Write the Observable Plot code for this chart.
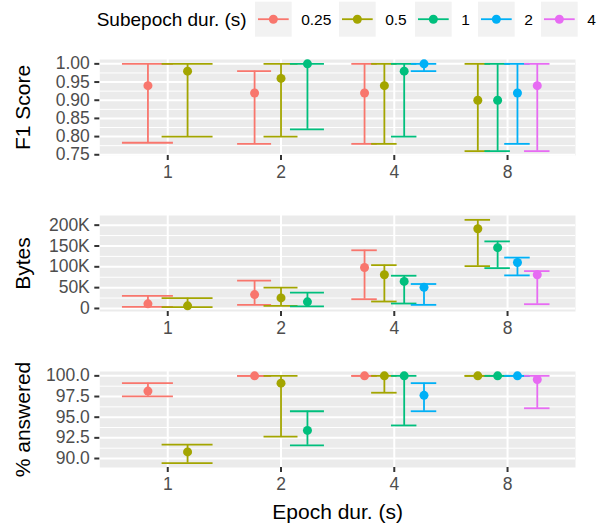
<!DOCTYPE html>
<html>
<head>
<meta charset="utf-8">
<script src="https://cdn.jsdelivr.net/npm/d3@7"></script>
<script src="https://cdn.jsdelivr.net/npm/@observablehq/plot@0.6"></script>
<style>
  html, body { margin: 0; padding: 0; background: white; overflow: hidden; }
  #chart svg { display: block; }
</style>
</head>
<body>
<div id="chart"></div>
<script>
// ---------- data ----------
const epochs = ["1", "2", "4", "8"];
const subepochs = ["0.25", "0.5", "1", "2", "4"];
const rowEpoch = ["1","1", "2","2","2", "4","4","4","4", "8","8","8","8"];
const rowSub   = ["0.25","0.5", "0.25","0.5","1", "0.25","0.5","1","2", "0.5","1","2","4"];

const f1Mid  = [0.94, 0.98,  0.92, 0.96, 1.00,  0.92, 0.94, 0.98, 1.00,  0.90, 0.90, 0.92, 0.94];
const f1Low  = [0.783, 0.80, 0.78, 0.80, 0.82,  0.78, 0.78, 0.80, 0.98,  0.76, 0.76, 0.78, 0.76];
const f1High = [1.00, 1.00,  0.98, 1.00, 1.00,  1.00, 1.00, 1.00, 1.00,  1.00, 1.00, 1.00, 1.00];

const bytesMid  = [11100, 6300,  33300, 25400, 15900,  98400, 81000, 65000, 50800,  191300, 146000, 110300, 81000];
const bytesLow  = [4000, 3200,   8700, 6300, 4800,     22200, 16700, 11900, 8700,   101600, 96800, 79400, 10300];
const bytesHigh = [30200, 24600, 66700, 50000, 38100,  139700, 104000, 78600, 58700, 212700, 161000, 122200, 89700];

const ansMid  = [98.16, 90.80,  100, 99.12, 93.40,  100, 100, 100, 97.64,  100, 100, 100, 99.56];
const ansLow  = [97.52, 89.44,  100, 92.64, 91.60,  100, 97.96, 94.00, 95.72,  100, 100, 100, 96.08];
const ansHigh = [99.12, 91.68,  100, 100, 95.72,    100, 100, 100, 99.12,  100, 100, 100, 100];

const f1Ticks = [0.75, 0.80, 0.85, 0.90, 0.95, 1.00];
const bytesTicks = [0, 50000, 100000, 150000, 200000];
const ansTicks = [90, 92.5, 95, 97.5, 100];

const palette = ["#F8766D", "#A3A500", "#00BF7D", "#00B0F6", "#E76BF3"];

// ---------- layout helpers ----------
const FONT = "Liberation Sans, Arial, Helvetica, sans-serif";
const W = 602, ML = 99.3, MR = 27;
const DODGE = 0.7, BARW = 0.9;

// dodge positions (data units of the category index)
const groupMembers = {};
rowEpoch.forEach((e, i) => { (groupMembers[e] = groupMembers[e] || []).push(rowSub[i]); });
function rows(mid, lo, hi) {
  return rowEpoch.map((e, i) => {
    const members = groupMembers[e];
    const n = members.length;
    const k = members.indexOf(rowSub[i]);
    const idx = epochs.indexOf(e) + 1;
    const xc = idx + (k - (n - 1) / 2) * (DODGE / n);
    const hw = BARW / n / 2;
    return {epoch: e, sub: rowSub[i], xc, x1: xc - hw, x2: xc + hw, mid: mid[i], lo: lo[i], hi: hi[i]};
  });
}
function expanded(data) {
  const lo = d3.min(data, d => Math.min(d.lo, d.mid));
  const hi = d3.max(data, d => Math.max(d.hi, d.mid));
  const pad = (hi - lo) * 0.05;
  return [lo - pad, hi + pad];
}
function minorOf(ticks) {
  const m = [];
  for (let i = 0; i < ticks.length - 1; i++) m.push((ticks[i] + ticks[i + 1]) / 2);
  return m;
}

function panel({data, ticks, fmt, title, height, marginBottom, xTitle}) {
  const marks = [
    Plot.frame({fill: "#EBEBEB", stroke: "none"}),
    Plot.ruleY(minorOf(ticks), {stroke: "white", strokeWidth: 1}),
    Plot.ruleY(ticks, {stroke: "white", strokeWidth: 2}),
    Plot.ruleX([1, 2, 3, 4], {stroke: "white", strokeWidth: 2}),
    Plot.ruleX(data, {x: "xc", y1: "lo", y2: "hi", stroke: "sub", strokeWidth: 1.8}),
    Plot.ruleY(data, {y: "lo", x1: "x1", x2: "x2", stroke: "sub", strokeWidth: 1.8}),
    Plot.ruleY(data, {y: "hi", x1: "x1", x2: "x2", stroke: "sub", strokeWidth: 1.8}),
    Plot.dot(data, {x: "xc", y: "mid", fill: "sub", r: 4.5}),
    Plot.axisY({ticks, tickFormat: fmt, tickSize: 5, tickPadding: 5, strokeWidth: 2, label: null, fill: "#4D4D4D", stroke: "#333333"}),
    Plot.axisX({ticks: [1, 2, 3, 4], tickFormat: i => epochs[i - 1], tickSize: 5, tickPadding: 5, strokeWidth: 2, label: null, fill: "#4D4D4D", stroke: "#333333"}),
    Plot.text([title], {frameAnchor: "left", dx: -76.3, rotate: -90, textAnchor: "middle", lineAnchor: "middle", fontSize: 21, fill: "black", text: d => d})
  ];
  if (xTitle) marks.push(Plot.text([xTitle], {frameAnchor: "bottom", dy: 45, textAnchor: "middle", lineAnchor: "middle", fontSize: 21, fill: "black", text: d => d}));
  return Plot.plot({
    width: W, height,
    marginLeft: ML, marginRight: MR, marginTop: 10, marginBottom,
    style: {fontFamily: FONT, fontSize: "17.5px", background: "white", overflow: "visible"},
    x: {domain: [0.4, 4.6], label: null},
    y: {domain: expanded(data), label: null},
    color: {domain: subepochs, range: palette},
    marks
  });
}

const root = document.getElementById("chart");

// ---------- legend ----------
const legend = d3.create("svg").attr("width", W).attr("height", 49)
  .style("font-family", FONT);
legend.append("text").attr("x", 96.7).attr("y", 19.2).attr("dy", "0.35em")
  .attr("font-size", 19).attr("fill", "black").text("Subepoch dur. (s)");
const keyX = [255, 339, 415, 478, 541];
const keyW = 36.7, keyY = 1.7, keyH = 35;
subepochs.forEach((s, i) => {
  const g = legend.append("g");
  g.append("rect").attr("x", keyX[i]).attr("y", keyY).attr("width", keyW).attr("height", keyH).attr("fill", "#F2F2F2");
  g.append("line").attr("x1", keyX[i] + 3).attr("x2", keyX[i] + keyW - 3)
    .attr("y1", keyY + keyH / 2).attr("y2", keyY + keyH / 2)
    .attr("stroke", palette[i]).attr("stroke-width", 1.8);
  g.append("circle").attr("cx", keyX[i] + keyW / 2).attr("cy", keyY + keyH / 2).attr("r", 4.5).attr("fill", palette[i]);
  g.append("text").attr("x", keyX[i] + keyW + 9.5).attr("y", keyY + keyH / 2).attr("dy", "0.35em")
    .attr("font-size", 15.5).attr("fill", "black").text(s);
});
root.appendChild(legend.node());

root.appendChild(panel({data: rows(f1Mid, f1Low, f1High), ticks: f1Ticks, fmt: d3.format(".2f"), title: "F1 Score", height: 156, marginBottom: 50}));
root.appendChild(panel({data: rows(bytesMid, bytesLow, bytesHigh), ticks: bytesTicks, fmt: d => d === 0 ? "0" : (d / 1000) + "K", title: "Bytes", height: 156, marginBottom: 50}));
root.appendChild(panel({data: rows(ansMid, ansLow, ansHigh), ticks: ansTicks, fmt: d3.format(".1f"), title: "% answered", height: 163, marginBottom: 57, xTitle: "Epoch dur. (s)"}));
</script>
</body>
</html>
